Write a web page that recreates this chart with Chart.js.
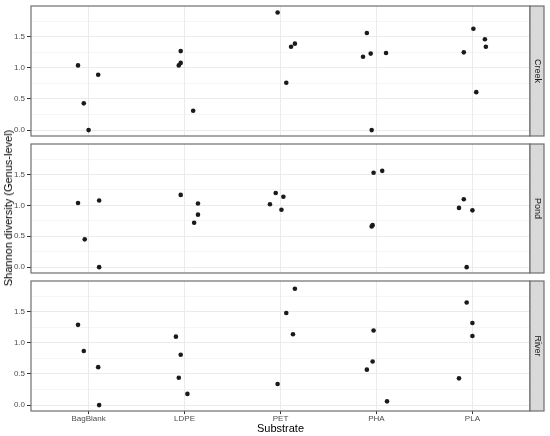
<!DOCTYPE html>
<html>
<head>
<meta charset="utf-8">
<script src="https://cdn.jsdelivr.net/npm/chart.js@4.4.1/dist/chart.umd.min.js"></script>
<style>
body { margin: 0; background: #fff; }
#wrap { position: relative; width: 550px; height: 436px; font-family: "Liberation Sans", Arial, sans-serif; }
.pane { position: absolute; left: 0; width: 550px; }
#ylab { position: absolute; left: 8px; top: 208px; transform: translate(-50%, -50%) rotate(-90deg);
        font-size: 11px; white-space: nowrap; color: #000; }
</style>
</head>
<body>
<div id="wrap">
  <div class="pane" style="top:0;height:140px"><canvas id="creek"></canvas></div>
  <div class="pane" style="top:140px;height:137px"><canvas id="pond"></canvas></div>
  <div class="pane" style="top:277px;height:159px"><canvas id="river"></canvas></div>
  <div id="ylab">Shannon diversity (Genus-level)</div>
</div>
<script>
// categories on the x axis
const categories = ['BagBlank', 'LDPE', 'PET', 'PHA', 'PLA'];
const yTicks = [0, 0.25, 0.5, 0.75, 1, 1.25, 1.5, 1.75];

// Creek
const creekGroup  = [0, 0, 0, 0, 1, 1, 1, 1, 2, 2, 2, 2, 3, 3, 3, 3, 3, 4, 4, 4, 4, 4];
const creekJitter = [-0.11, -0.05, 0.00, 0.10, -0.06, -0.04, -0.04, 0.09, -0.03, 0.06, 0.11, 0.15,
                     -0.14, -0.10, -0.06, -0.05, 0.10, -0.09, 0.01, 0.04, 0.13, 0.14];
const creekValues = [1.04, 0.43, 0.00, 0.89, 1.04, 1.08, 1.27, 0.31, 1.89, 0.76, 1.34, 1.39,
                     1.18, 1.56, 1.23, 0.00, 1.24, 1.25, 1.63, 0.61, 1.46, 1.34];

// Pond
const pondGroup  = [0, 0, 0, 0, 1, 1, 1, 1, 2, 2, 2, 2, 3, 3, 3, 3, 4, 4, 4, 4];
const pondJitter = [-0.11, -0.04, 0.11, 0.11, -0.04, 0.10, 0.14, 0.14, -0.11, -0.05, 0.01, 0.03,
                    -0.05, -0.04, -0.03, 0.06, -0.14, -0.09, -0.06, 0.00];
const pondValues = [1.04, 0.45, 1.08, 0.00, 1.17, 0.72, 0.85, 1.03, 1.02, 1.20, 0.93, 1.14,
                    0.66, 0.68, 1.53, 1.56, 0.96, 1.10, 0.00, 0.92];

// River
const riverGroup  = [0, 0, 0, 0, 1, 1, 1, 1, 2, 2, 2, 2, 3, 3, 3, 3, 4, 4, 4, 4];
const riverJitter = [-0.11, -0.05, 0.10, 0.11, -0.09, -0.06, -0.04, 0.03, -0.03, 0.06, 0.13, 0.15,
                     -0.10, -0.04, -0.03, 0.11, -0.14, -0.06, 0.00, 0.00];
const riverValues = [1.29, 0.87, 0.61, 0.00, 1.10, 0.44, 0.81, 0.18, 0.34, 1.48, 1.14, 1.87,
                     0.57, 0.70, 1.20, 0.06, 0.43, 1.65, 1.11, 1.32];

const isMajor = v => Math.abs(v * 2 - Math.round(v * 2)) < 1e-6;

// panel border + grey strip on the right
const facetPlugin = {
    id: 'facet',
    afterDraw(chart, args, opts) {
        const ctx = chart.ctx, a = chart.chartArea;
        ctx.save();
        ctx.strokeStyle = '#6e6e6e';
        ctx.lineWidth = 1.2;
        ctx.strokeRect(a.left, a.top, a.right - a.left, a.bottom - a.top);
        // strip
        ctx.fillStyle = '#D9D9D9';
        ctx.fillRect(a.right, a.top, 14, a.bottom - a.top);
        ctx.strokeRect(a.right, a.top, 14, a.bottom - a.top);
        ctx.translate(a.right + 7, (a.top + a.bottom) / 2);
        ctx.rotate(Math.PI / 2);
        ctx.fillStyle = '#1A1A1A';
        ctx.font = '9px "Liberation Sans", Arial, sans-serif';
        ctx.textAlign = 'center';
        ctx.textBaseline = 'middle';
        ctx.fillText(opts.label, 0, 0);
        ctx.restore();
    }
};

function makePanel(id, label, group, jitter, values, showX, pad) {
    const points = values.map((v, i) => ({ x: group[i] + 1 + jitter[i], y: v }));
    return new Chart(document.getElementById(id), {
        type: 'scatter',
        data: {
            datasets: [{
                data: points,
                backgroundColor: '#1A1A1A',
                borderColor: '#1A1A1A',
                borderWidth: 0,
                pointRadius: 2.3
            }]
        },
        options: {
            responsive: true,
            maintainAspectRatio: false,
            animation: false,
            layout: { padding: { top: pad.top, bottom: pad.bottom, left: 0, right: 20 } },
            plugins: {
                legend: { display: false },
                tooltip: { enabled: false },
                facet: { label: label }
            },
            scales: {
                x: {
                    type: 'linear',
                    min: 0.4,
                    max: 5.6,
                    afterBuildTicks: s => { s.ticks = [1, 2, 3, 4, 5].map(v => ({ value: v })); },
                    border: { display: false },
                    grid: {
                        color: '#EBEBEB',
                        lineWidth: 1,
                        drawTicks: showX,
                        tickLength: showX ? 3 : 0,
                        tickColor: '#333333'
                    },
                    ticks: {
                        display: showX,
                        color: '#4D4D4D',
                        font: { size: 8, family: '"Liberation Sans", Arial, sans-serif' },
                        padding: 0,
                        maxRotation: 0,
                        callback: v => categories[v - 1]
                    },
                    title: {
                        display: showX,
                        text: 'Substrate',
                        color: '#000',
                        font: { size: 11, family: '"Liberation Sans", Arial, sans-serif' },
                        padding: { top: 0, bottom: 0 }
                    },
                    afterFit: s => { s.height = showX ? 25 : 0; s.paddingLeft = 0; s.paddingRight = 0; }
                },
                y: {
                    min: -0.095,
                    max: 1.995,
                    afterBuildTicks: s => { s.ticks = yTicks.map(v => ({ value: v })); },
                    border: { display: false },
                    grid: {
                        color: '#EBEBEB',
                        lineWidth: c => isMajor(c.tick.value) ? 1 : 0.5,
                        tickLength: 4,
                        tickColor: c => isMajor(c.tick.value) ? '#333333' : 'transparent'
                    },
                    ticks: {
                        color: '#4D4D4D',
                        font: { size: 8, family: '"Liberation Sans", Arial, sans-serif' },
                        padding: 2,
                        callback: v => isMajor(v) ? v.toFixed(1) : ''
                    },
                    afterFit: s => { s.width = 31; s.paddingTop = 0; s.paddingBottom = 0; }
                }
            }
        },
        plugins: [facetPlugin]
    });
}

makePanel('creek', 'Creek', creekGroup, creekJitter, creekValues, false, { top: 6, bottom: 1 });
makePanel('pond', 'Pond', pondGroup, pondJitter, pondValues, false, { top: 3, bottom: 2 });
makePanel('river', 'River', riverGroup, riverJitter, riverValues, true, { top: 3, bottom: 0 });
</script>
</body>
</html>
